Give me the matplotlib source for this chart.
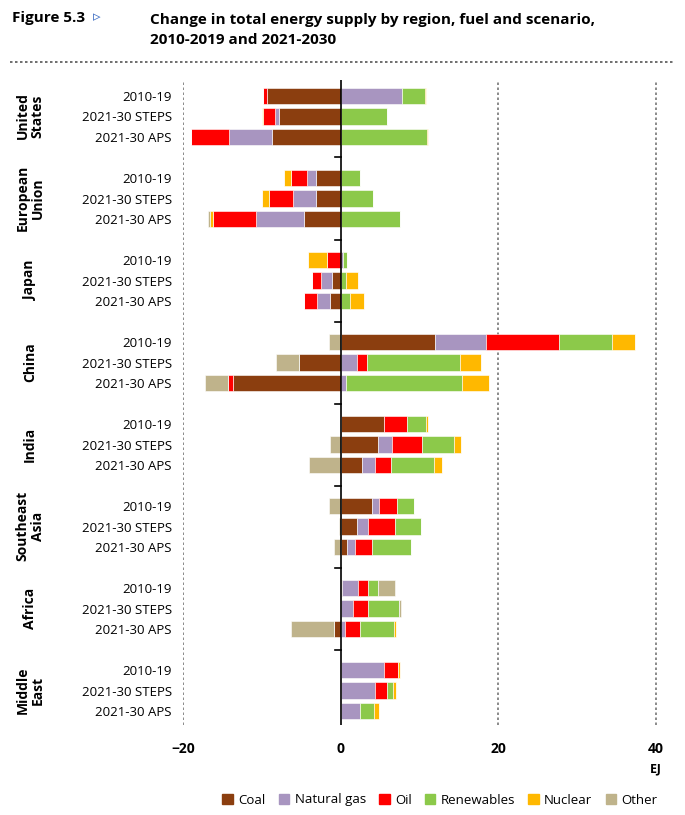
import matplotlib.pyplot as plt
import numpy as np
from matplotlib.patches import Patch

plt.rcParams['font.family'] = ['Open Sans', 'DejaVu Sans']

regions = ['United\nStates', 'European\nUnion', 'Japan', 'China', 'India',
           'Southeast\nAsia', 'Africa', 'Middle\nEast']
scenarios = ['2010-19', '2021-30 STEPS', '2021-30 APS']
fuels = ['Coal', 'Natural gas', 'Oil', 'Renewables', 'Nuclear', 'Other']
colors = ['#8B3E0F', '#A895C0', '#FF0000', '#8CC94A', '#FFB800', '#BFB38B']

# rows: region x scenario, values EJ
coal = [-9.4, -7.8, -8.7,  -3.1, -3.2, -4.6,  0.0, -1.05, -1.3,
        11.9, -5.3, -13.6,  5.45, 4.75, 2.7,  3.9, 2.0, 0.8,
        0.2, -0.15, -0.9,  0.0, 0.0, 0.0]
gas = [7.8, -0.55, -5.5,  -1.2, -2.8, -6.2,  0.25, -1.5, -1.7,
       6.55, 2.0, 0.7,  0.0, 1.8, 1.6,  0.9, 1.5, 1.05,
       2.0, 1.5, 0.6,  5.5, 4.35, 2.5]
oil = [-0.45, -1.5, -4.8,  -1.95, -3.1, -5.4,  -1.7, -1.1, -1.7,
       9.2, 1.35, -0.7,  3.0, 3.7, 2.1,  2.3, 3.4, 2.15,
       1.2, 2.0, 1.8,  1.8, 1.55, 0.0]
renew = [2.9, 5.9, 10.9,  2.4, 4.05, 7.5,  0.5, 0.7, 1.2,
         6.7, 11.8, 14.7,  2.3, 4.1, 5.4,  2.15, 3.25, 4.9,
         1.35, 3.9, 4.35,  0.0, 0.7, 1.75]
nuclear = [0.15, -0.1, 0.2,  -1.0, -0.9, -0.4,  -2.5, 1.5, 1.8,
           3.0, 2.6, 3.4,  0.3, 0.9, 1.0,  0.0, 0.0, 0.0,
           0.0, 0.0, 0.2,  0.15, 0.4, 0.55]
other = [0.0, 0.0, 0.0,  0.1, 0.1, -0.2,  0.0, 0.0, 0.0,
         -1.5, -2.9, -2.9,  0.0, -1.3, -4.05,  -1.45, -0.2, -0.8,
         2.15, 0.3, -5.4,  0.0, 0.0, 0.0]

data = np.array([coal, gas, oil, renew, nuclear, other])
ypos = np.array([4 * g + r for g in range(8) for r in range(3)])

fig = plt.figure(figsize=(6.85, 8.15), dpi=100)
ax = fig.add_axes([183 / 685, 1 - 725 / 815, 489 / 685, 645 / 815])

pos_left = np.zeros(len(ypos))
neg_left = np.zeros(len(ypos))
for vals, c in zip(data, colors):
    p = np.where(vals > 0, vals, 0)
    n = np.where(vals < 0, vals, 0)
    ax.barh(ypos, p, left=pos_left, height=0.8, color=c, edgecolor='white', linewidth=0.4)
    ax.barh(ypos, n, left=neg_left, height=0.8, color=c, edgecolor='white', linewidth=0.4)
    pos_left += p
    neg_left += n

ax.set_xlim(-20, 42)
ax.set_ylim(30.68, -0.78)
for gx in [-20, 20, 40]:
    ax.axvline(gx, color='#777777', ls=(0, (1.5, 1.5)), lw=1.2, zorder=0)
ax.axvline(0, color='black', lw=1.2)
for g in range(1, 8):
    ax.plot([-0.7, 0], [4 * g - 1, 4 * g - 1], color='black', lw=1.2)
for s in ax.spines.values():
    s.set_visible(False)
ax.set_xticks([-20, 0, 20, 40])
ax.tick_params(axis='x', length=0, labelsize=10, pad=12)
for t in ax.get_xticklabels():
    t.set_fontweight('bold')
ax.set_yticks(ypos)
ax.set_yticklabels(scenarios * 8, fontsize=9.5)
ax.tick_params(axis='y', length=0, pad=8)
ax.text(40, 32.8, 'EJ', ha='center', va='center', fontsize=9, fontweight='bold')

for g, name in enumerate(regions):
    fig.text(30 / 685, 1 - (116 + 82 * g) / 815, name, rotation=90, ha='center',
             va='center', fontsize=10, fontweight='bold', linespacing=1.1)

fig.text(12 / 685, 1 - 18 / 815, 'Figure 5.3', fontsize=11, fontweight='bold', va='center')
fig.text(93 / 685, 1 - 18 / 815, '\u25B9', fontsize=11, color='#4472C4', va='center')
fig.text(150 / 685, 1 - 30 / 815,
         'Change in total energy supply by region, fuel and scenario,\n2010-2019 and 2021-2030',
         fontsize=11, fontweight='bold', va='center', linespacing=1.5)
fig.add_artist(plt.Line2D([10 / 685, 675 / 685], [1 - 62 / 815] * 2, color='#555555',
                          ls=(0, (1.5, 1.5)), lw=1.2))

handles = [Patch(color=c, label=f) for f, c in zip(fuels, colors)]
fig.legend(handles=handles, loc='center', bbox_to_anchor=(440 / 685, 1 - 800 / 815),
           ncol=6, frameon=False, fontsize=9.5, handlelength=0.8, handleheight=0.8,
           handletextpad=0.4, columnspacing=1.0)

fig.savefig('out.png', dpi=100)
